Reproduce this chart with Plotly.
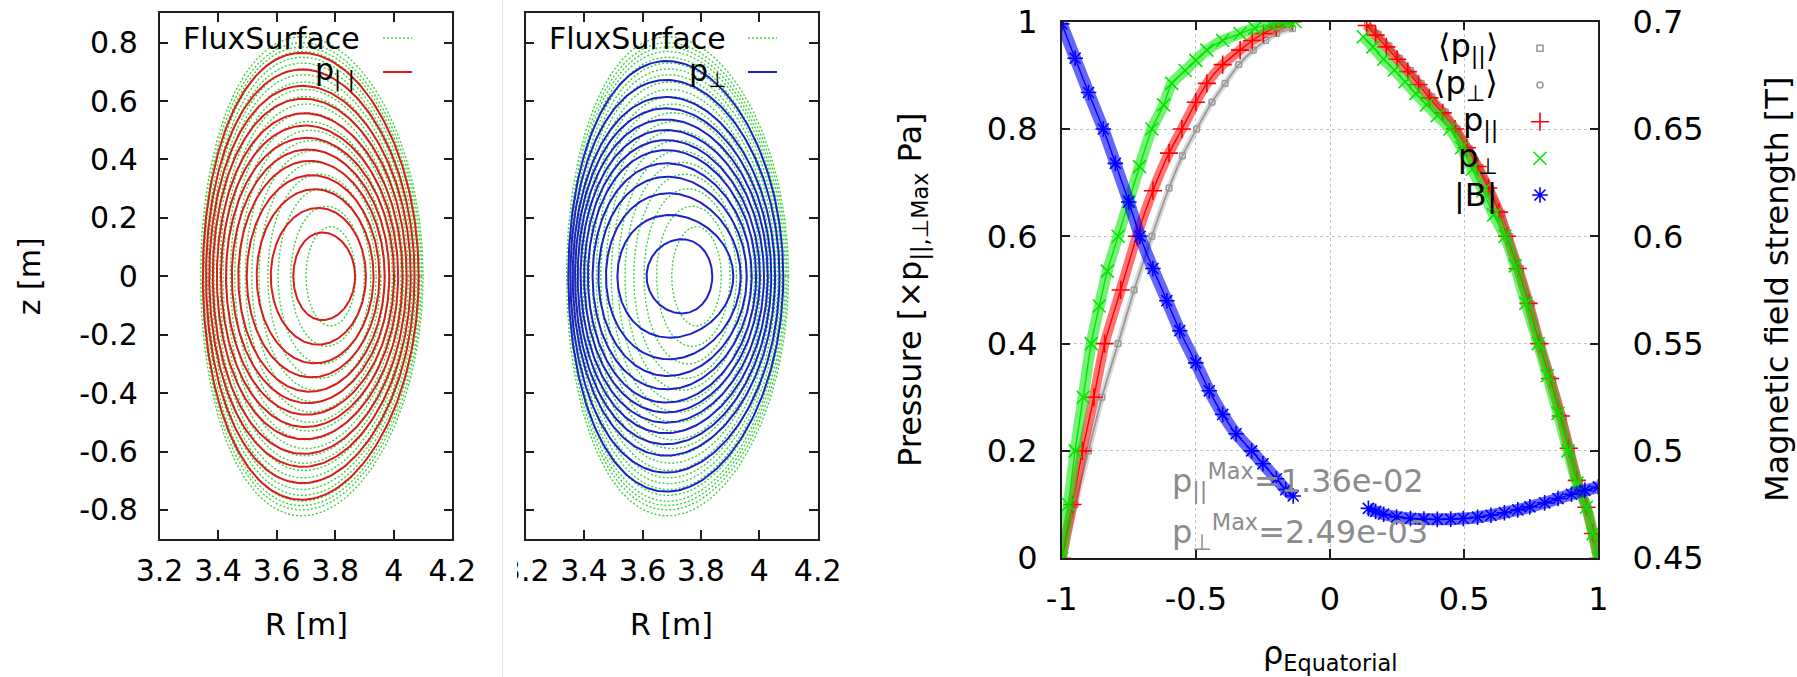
import numpy as np
import plotly.graph_objects as go

W, H = 1797, 677
FONT = "DejaVu Sans"
INK = "#1e1e1e"

# ---------------------------------------------------------------------------
# Flux surfaces (shared by both cross-section panels), innermost first.
# Each surface: inboard / outboard midplane radius, half-height, R of the top.
# ---------------------------------------------------------------------------
flux_r_in = [3.700, 3.648, 3.605, 3.570, 3.540, 3.515, 3.493, 3.474, 3.457, 3.442, 3.429,
             3.417, 3.406, 3.396, 3.387, 3.379, 3.372, 3.365, 3.358, 3.352, 3.346, 3.340]
flux_r_out = [3.870, 3.900, 3.922, 3.940, 3.956, 3.970, 3.983, 3.995, 4.006, 4.016, 4.025,
              4.034, 4.042, 4.050, 4.057, 4.064, 4.071, 4.077, 4.083, 4.089, 4.095, 4.100]
flux_z_top = [0.170, 0.240, 0.300, 0.350, 0.390, 0.430, 0.465, 0.500, 0.530, 0.560, 0.590,
              0.615, 0.640, 0.665, 0.690, 0.710, 0.730, 0.750, 0.770, 0.785, 0.800, 0.820]
flux_r_top = [3.785, 3.770, 3.755, 3.745, 3.735, 3.727, 3.720, 3.714, 3.709, 3.705, 3.701,
              3.698, 3.695, 3.693, 3.691, 3.690, 3.689, 3.688, 3.687, 3.686, 3.686, 3.686]

# Iso-p_parallel contours
ppar_r_in = [3.657, 3.580, 3.532, 3.498, 3.469, 3.447, 3.427, 3.410, 3.396, 3.382, 3.370, 3.359, 3.348]
ppar_r_out = [3.868, 3.905, 3.931, 3.951, 3.969, 3.985, 4.001, 4.015, 4.030, 4.044, 4.058, 4.071, 4.085]
ppar_z_top = [0.150, 0.234, 0.298, 0.346, 0.395, 0.434, 0.474, 0.516, 0.558, 0.608, 0.652, 0.708, 0.765]
ppar_r_top = [3.757, 3.742, 3.730, 3.720, 3.713, 3.707, 3.702, 3.698, 3.695, 3.692, 3.690, 3.688, 3.686]

# Iso-p_perp contours
pperp_r_in = [3.614, 3.514, 3.475, 3.449, 3.429, 3.413, 3.400, 3.388, 3.378, 3.369, 3.361, 3.353, 3.346]
pperp_r_out = [3.839, 3.911, 3.936, 3.957, 3.974, 3.989, 4.002, 4.016, 4.029, 4.041, 4.054, 4.069, 4.082]
pperp_z_top = [0.127, 0.210, 0.284, 0.341, 0.387, 0.432, 0.466, 0.501, 0.537, 0.575, 0.614, 0.672, 0.737]
pperp_r_top = [3.734, 3.694, 3.690, 3.686, 3.683, 3.681, 3.680, 3.680, 3.680, 3.680, 3.681, 3.682, 3.683]

# ---------------------------------------------------------------------------
# Equatorial profiles (pressures normalised to their maxima, |B| in tesla)
# ---------------------------------------------------------------------------
# <p_par> (the flux-surface average <p_perp> lies on top of it)
avg_rho_l = [-1.0, -0.95, -0.90, -0.85, -0.79, -0.73, -0.664, -0.60, -0.55, -0.497, -0.44,
             -0.391, -0.34, -0.286, -0.24, -0.199, -0.14]
avg_p_l = [0.0, 0.10, 0.20, 0.30, 0.40, 0.50, 0.60, 0.69, 0.75, 0.80, 0.85,
           0.885, 0.92, 0.947, 0.965, 0.978, 0.987]
avg_rho_r = [0.14, 0.18, 0.22, 0.26, 0.30, 0.34, 0.38, 0.43, 0.475, 0.52, 0.56, 0.60,
             0.64, 0.67, 0.71, 0.75, 0.79, 0.83, 0.87, 0.90, 0.93, 0.96, 0.985, 1.0]
avg_p_r = [0.995, 0.977, 0.955, 0.932, 0.909, 0.885, 0.860, 0.832, 0.800, 0.763, 0.728, 0.688,
           0.643, 0.600, 0.540, 0.474, 0.400, 0.333, 0.262, 0.203, 0.143, 0.090, 0.038, 0.0]

ppar_rho_l = [-1.0, -0.96, -0.923, -0.88, -0.84, -0.78, -0.72, -0.66, -0.60, -0.552, -0.50,
              -0.459, -0.40, -0.335, -0.29, -0.248, -0.20, -0.14]
ppar_p_l = [0.0, 0.10, 0.20, 0.30, 0.40, 0.50, 0.60, 0.685, 0.755, 0.80, 0.85,
            0.885, 0.92, 0.947, 0.965, 0.978, 0.99, 1.0]
ppar_rho_r = [0.137, 0.17, 0.21, 0.25, 0.29, 0.33, 0.37, 0.42, 0.466, 0.51, 0.55, 0.59,
              0.63, 0.66, 0.70, 0.74, 0.78, 0.82, 0.86, 0.89, 0.92, 0.956, 0.98, 1.0]
ppar_p_r = [0.993, 0.975, 0.953, 0.930, 0.907, 0.883, 0.858, 0.830, 0.800, 0.765, 0.730, 0.690,
            0.645, 0.600, 0.540, 0.475, 0.400, 0.335, 0.265, 0.205, 0.145, 0.095, 0.046, 0.0]

pperp_rho_l = [-1.0, -0.975, -0.95, -0.92, -0.89, -0.86, -0.83, -0.79, -0.75, -0.71, -0.664,
               -0.62, -0.59, -0.54, -0.50, -0.459, -0.40, -0.335, -0.28, -0.22, -0.16, -0.13]
pperp_p_l = [0.0, 0.10, 0.20, 0.30, 0.40, 0.47, 0.535, 0.60, 0.665, 0.73, 0.80,
             0.845, 0.885, 0.909, 0.928, 0.947, 0.965, 0.978, 0.988, 0.995, 0.999, 1.0]
pperp_rho_r = [0.124, 0.16, 0.20, 0.24, 0.28, 0.32, 0.36, 0.40, 0.447, 0.49, 0.53, 0.57,
               0.61, 0.652, 0.69, 0.73, 0.776, 0.81, 0.85, 0.887, 0.92, 0.956, 0.98, 1.0]
pperp_p_r = [0.972, 0.953, 0.930, 0.910, 0.888, 0.866, 0.845, 0.825, 0.800, 0.765, 0.725, 0.685,
             0.640, 0.600, 0.545, 0.475, 0.400, 0.340, 0.270, 0.200, 0.140, 0.095, 0.046, 0.0]

bmag_rho_l = [-1.0, -0.95, -0.90, -0.845, -0.80, -0.75, -0.708, -0.66, -0.608, -0.56,
              -0.50, -0.45, -0.40, -0.35, -0.292, -0.25, -0.20, -0.165, -0.137]
bmag_l = [0.699, 0.683, 0.667, 0.650, 0.634, 0.616, 0.600, 0.585, 0.570, 0.556,
          0.541, 0.528, 0.517, 0.508, 0.500, 0.494, 0.487, 0.482, 0.479]
bmag_rho_r = [0.143, 0.17, 0.20, 0.248, 0.30, 0.35, 0.40, 0.45, 0.497, 0.55,
              0.60, 0.65, 0.70, 0.745, 0.80, 0.85, 0.90, 0.95, 1.0]
bmag_r = [0.4732, 0.4718, 0.4705, 0.4692, 0.4685, 0.4682, 0.4681, 0.4682, 0.4685, 0.4691,
          0.4700, 0.4712, 0.4725, 0.4739, 0.4758, 0.4778, 0.4798, 0.4816, 0.4832]

p_par_max_text = "1.36e-02"
p_perp_max_text = "2.49e-03"

r_ticks = [3.2, 3.4, 3.6, 3.8, 4.0, 4.2]
r_tick_text = ["3.2", "3.4", "3.6", "3.8", "4", "4.2"]
z_ticks = [-0.8, -0.6, -0.4, -0.2, 0.0, 0.2, 0.4, 0.6, 0.8]
z_tick_text = ["-0.8", "-0.6", "-0.4", "-0.2", "0", "0.2", "0.4", "0.6", "0.8"]
rho_ticks = [-1, -0.5, 0, 0.5, 1]
rho_tick_text = ["-1", "-0.5", "0", "0.5", "1"]
p_ticks = [0, 0.2, 0.4, 0.6, 0.8, 1.0]
p_tick_text = ["0", "0.2", "0.4", "0.6", "0.8", "1"]
b_ticks = [0.45, 0.5, 0.55, 0.6, 0.65, 0.7]
b_tick_text = ["0.45", "0.5", "0.55", "0.6", "0.65", "0.7"]

RED, GREEN, BLUE, GREY = "#ff0000", "#00e600", "#0000ff", "#9a9a9a"
LINE_RED, LINE_BLUE, DOT_GREEN = "#d91c1c", "#1c22c8", "#3fd23f"


def px(x):
    return x / W


def py(y):
    return 1 - y / H


def rgba(hex_color, alpha):
    h = hex_color.lstrip("#")
    r, g, b = (int(h[i:i + 2], 16) for i in (0, 2, 4))
    return f"rgba({r},{g},{b},{alpha})"


def closed_surface(r_in, r_out, z_top, r_top, n=241):
    t = np.linspace(0, 2 * np.pi, n)
    rc = 0.5 * (r_in + r_out)
    a = 0.5 * (r_out - r_in)
    d = np.arcsin(np.clip((rc - r_top) / a, -0.95, 0.95))
    return rc + a * np.cos(t + d * np.sin(t)), z_top * np.sin(t)


fig = go.Figure()


def add_surfaces(r_in, r_out, z_top, r_top, xa, ya, line, name):
    xs, ys = [], []
    for i in range(len(r_in)):
        R, Z = closed_surface(r_in[i], r_out[i], z_top[i], r_top[i])
        xs += list(R) + [None]
        ys += list(Z) + [None]
    fig.add_trace(go.Scatter(x=xs, y=ys, mode="lines", line=line, name=name,
                             xaxis=xa, yaxis=ya, showlegend=False, hoverinfo="skip"))


green_dots = dict(color=DOT_GREEN, width=1.4, dash="2px,2px")
add_surfaces(flux_r_in, flux_r_out, flux_z_top, flux_r_top, "x", "y", green_dots, "FluxSurface")
add_surfaces(ppar_r_in, ppar_r_out, ppar_z_top, ppar_r_top, "x", "y",
             dict(color=LINE_RED, width=2), "p||")
add_surfaces(flux_r_in, flux_r_out, flux_z_top, flux_r_top, "x2", "y2", green_dots, "FluxSurface")
add_surfaces(pperp_r_in, pperp_r_out, pperp_z_top, pperp_r_top, "x2", "y2",
             dict(color=LINE_BLUE, width=2), "p⊥")


def add_profile(rho_l, v_l, rho_r, v_r, name, color, symbol, size, lw, ya, band_w, band_a):
    """Densely sampled point series: a soft band along the points plus the markers."""
    for rho, v in ((rho_l, v_l), (rho_r, v_r)):
        if band_a > 0:
            fig.add_trace(go.Scatter(
                x=rho, y=v, mode="lines", xaxis="x3", yaxis=ya, name=name,
                line=dict(color=rgba(color, band_a), width=band_w, shape="spline", smoothing=0.6),
                showlegend=False, hoverinfo="skip"))
        fig.add_trace(go.Scatter(
            x=rho, y=v, mode="lines+markers", name=name, xaxis="x3", yaxis=ya,
            line=dict(color=color, width=1.4, shape="spline", smoothing=0.6),
            marker=dict(symbol=symbol, size=size, color=color,
                        line=dict(color=color, width=lw)),
            showlegend=False))


add_profile(avg_rho_l, avg_p_l, avg_rho_r, avg_p_r, "⟨p||⟩", GREY, "square-open", 6, 1, "y3", 6, 0.4)
add_profile(avg_rho_l, avg_p_l, avg_rho_r, avg_p_r, "⟨p⊥⟩", GREY, "circle-open", 6, 1, "y3", 6, 0.0)
add_profile(ppar_rho_l, ppar_p_l, ppar_rho_r, ppar_p_r, "p||", RED, "cross-thin", 13, 1.6, "y3", 10, 0.55)
add_profile(pperp_rho_l, pperp_p_l, pperp_rho_r, pperp_p_r, "p⊥", GREEN, "x-thin", 13, 1.6, "y3", 11, 0.55)
add_profile(bmag_rho_l, bmag_l, bmag_rho_r, bmag_r, "|B|", BLUE, "asterisk", 13, 1.6, "y4", 12, 0.6)

# key symbols of the profile panel, placed on a full-figure pixel axis
key_names = ["⟨p<sub>||</sub>⟩", "⟨p<sub>⊥</sub>⟩", "p<sub>||</sub>", "p<sub>⊥</sub>", "|B|"]
key_syms = ["square-open", "circle-open", "cross-thin", "x-thin", "asterisk"]
key_cols = [GREY, GREY, RED, GREEN, BLUE]
key_sizes = [6, 6, 13, 13, 13]
key_rows = [48.3, 85.0, 121.7, 158.3, 195.0]
key_text_x, key_sym_x = 1500, 1540
for nm, sy, co, sz, yy in zip(key_names, key_syms, key_cols, key_sizes, key_rows):
    fig.add_trace(go.Scatter(x=[key_sym_x], y=[yy], mode="markers", xaxis="x5", yaxis="y5",
                             marker=dict(symbol=sy, size=sz, color=co, line=dict(color=co, width=1.6)),
                             showlegend=False, hoverinfo="skip"))

frame = dict(showline=True, linecolor=INK, linewidth=1.5, ticks="inside", ticklen=9,
             tickwidth=1.5, tickcolor=INK, zeroline=False, showgrid=False, automargin=False)
left_font = dict(family=FONT, size=30, color="#000")
right_font = dict(family=FONT, size=32, color="#000")

yd_cs = [py(539.2), py(13.4)]
yd_pr = [py(558.2), py(21.7)]

fig.update_layout(
    template="none",
    width=W, height=H, margin=dict(l=0, r=0, t=0, b=0, pad=0, autoexpand=False),
    paper_bgcolor="white", plot_bgcolor="rgba(0,0,0,0)", showlegend=False,
    font=dict(family=FONT, color="#000"),
    xaxis=dict(frame, domain=[px(159.5), px(452.3)], range=[3.2, 4.2], tickvals=r_ticks,
               ticktext=r_tick_text, mirror="ticks", tickfont=left_font, anchor="y",
               ticklabelstandoff=4),
    yaxis=dict(frame, domain=yd_cs, range=[-0.9, 0.9], tickvals=z_ticks, ticktext=z_tick_text,
               mirror="ticks", tickfont=left_font, anchor="x", ticklabelstandoff=14),
    xaxis2=dict(frame, domain=[px(525.7), px(817.7)], range=[3.2, 4.2], tickvals=r_ticks,
                ticktext=r_tick_text, mirror="ticks", tickfont=left_font, anchor="y2",
                ticklabelstandoff=4),
    yaxis2=dict(frame, domain=yd_cs, range=[-0.9, 0.9], tickvals=z_ticks, showticklabels=False,
                mirror="ticks", anchor="x2"),
    xaxis3=dict(frame, domain=[px(1061.7), px(1598.3)], range=[-1, 1], tickvals=rho_ticks,
                ticktext=rho_tick_text, mirror="ticks", tickfont=right_font, anchor="y3",
                showgrid=True, gridcolor="#c4c4c4", griddash="dot", gridwidth=1,
                ticklabelstandoff=12),
    yaxis3=dict(frame, domain=yd_pr, range=[0, 1], tickvals=p_ticks, ticktext=p_tick_text,
                tickfont=right_font, anchor="x3", showgrid=True, gridcolor="#c4c4c4",
                griddash="dot", gridwidth=1, ticklabelstandoff=16),
    yaxis4=dict(frame, range=[0.45, 0.7], tickvals=b_ticks, ticktext=b_tick_text,
                tickfont=right_font, anchor="x3", overlaying="y3", side="right",
                ticklabelstandoff=26),
    xaxis5=dict(domain=[0, 1], range=[0, W], visible=False, anchor="y5", fixedrange=True,
                automargin=False),
    yaxis5=dict(domain=[0, 1], range=[H, 0], visible=False, anchor="x5", fixedrange=True,
                automargin=False),
)

shapes = [
    # opaque key box of the profile panel hides the grid behind the key
    dict(type="rect", xref="paper", yref="paper", x0=px(1238), x1=px(1577), y0=py(210),
         y1=py(23), fillcolor="white", line=dict(width=0), layer="between"),
    # key samples of the cross-section panels
    dict(type="line", xref="paper", yref="paper", x0=px(383), x1=px(412), y0=py(38), y1=py(38),
         line=dict(color=DOT_GREEN, width=1.4, dash="2px,2px")),
    dict(type="line", xref="paper", yref="paper", x0=px(383), x1=px(412), y0=py(72), y1=py(72),
         line=dict(color=LINE_RED, width=2)),
    dict(type="line", xref="paper", yref="paper", x0=px(748), x1=px(777), y0=py(38), y1=py(38),
         line=dict(color=DOT_GREEN, width=1.4, dash="2px,2px")),
    dict(type="line", xref="paper", yref="paper", x0=px(748), x1=px(777), y0=py(72), y1=py(72),
         line=dict(color=LINE_BLUE, width=2)),
    # the second panel is cut from its own canvas
    dict(type="rect", xref="paper", yref="paper", x0=px(490), x1=px(517), y0=py(610),
         y1=py(545), fillcolor="white", line=dict(width=0), layer="above"),
    dict(type="line", xref="paper", yref="paper", x0=px(502.5), x1=px(502.5), y0=0, y1=1,
         line=dict(color="#e6e6e6", width=1), layer="above"),
]
fig.update_layout(shapes=shapes)


def label(text, x, y, size, angle=0, xanchor="center", yanchor="middle", color="#000"):
    return dict(text=text, x=px(x), y=py(y), xref="paper", yref="paper", showarrow=False,
                textangle=angle, xanchor=xanchor, yanchor=yanchor,
                font=dict(family=FONT, size=size, color=color))


annotations = [
    label("z [m]", 29, 276.3, 30, angle=-90),
    label("R [m]", 306, 624, 30),
    label("R [m]", 671.7, 624, 30),
    label("Pressure [×p<sub>||,⊥Max</sub> Pa]", 912, 290, 32, angle=-90),
    label("Magnetic field strength [T]", 1777, 290, 32, angle=-90),
    label("ρ<sub>Equatorial</sub>", 1330, 655, 32),
    label("FluxSurface", 362, 38, 30, xanchor="right"),
    label("p<sub>| |</sub>", 357, 72, 30, xanchor="right"),
    label("FluxSurface", 728, 38, 30, xanchor="right"),
    label("p<sub>⊥</sub>", 728, 72, 30, xanchor="right"),
    label("p<sub>||</sub><sup>Max</sup>=" + p_par_max_text, 1170, 481, 32, xanchor="left",
          color="#8c8c8c"),
    label("p<sub>⊥</sub><sup>Max</sup>=" + p_perp_max_text, 1170, 532, 32, xanchor="left",
          color="#8c8c8c"),
]
for nm, yy in zip(key_names, key_rows):
    annotations.append(label(nm, key_text_x, yy, 32, xanchor="right"))
fig.update_layout(annotations=annotations)

fig.write_html("out.html")
